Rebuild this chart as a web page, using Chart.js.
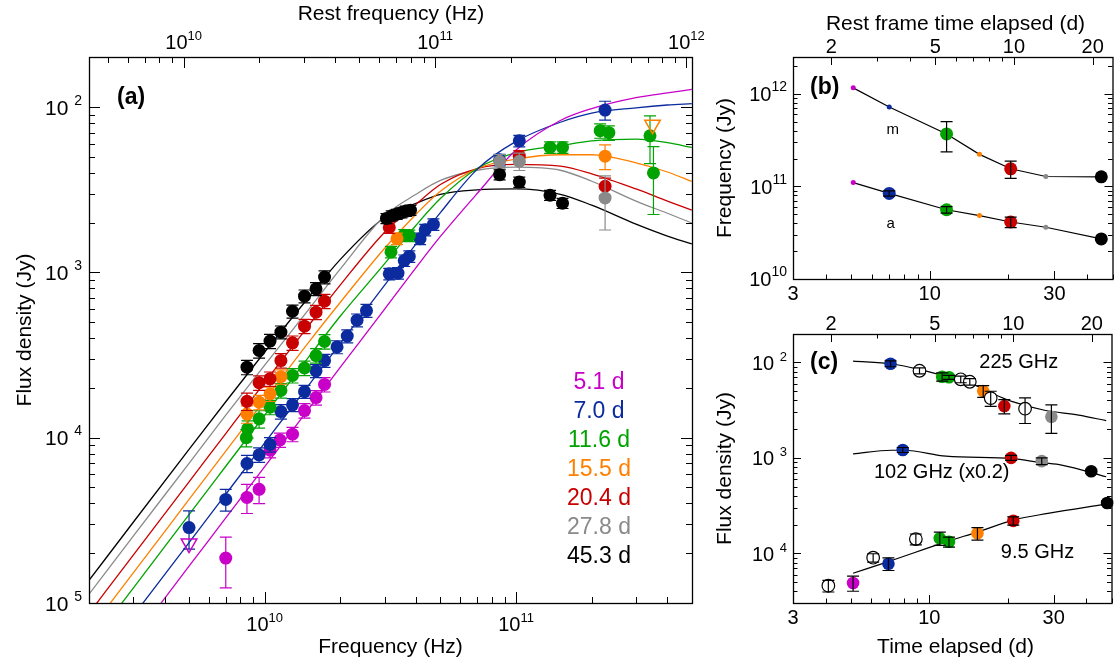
<!DOCTYPE html>
<html>
<head>
<meta charset="utf-8">
<title>Spectra and light curves</title>
<script src="https://cdn.jsdelivr.net/npm/chart.js@4.4.1/dist/chart.umd.min.js"></script>
<style>
  html, body { margin: 0; padding: 0; background: #fff; }
  #stage { position: relative; width: 1119px; height: 664px; overflow: hidden; }
  #stage canvas { position: absolute; left: 0; top: 0; }
</style>
</head>
<body>
<div id="stage">
  <canvas id="panelA" width="1119" height="664"></canvas>
  <canvas id="panelB" width="1119" height="664"></canvas>
  <canvas id="panelC" width="1119" height="664"></canvas>
</div>
<script>
const FONT = '"Liberation Sans", Arial, Helvetica, sans-serif';
const ONE_PLUS_Z = 2.1; // observed -> rest frame factor for the top axes

// ---- epochs ----
const epochLabels = ['5.1 d', '7.0 d', '11.6 d', '15.5 d', '20.4 d', '27.8 d', '45.3 d'];
const epochDays = [5.1, 7.0, 11.6, 15.5, 20.4, 27.8, 45.3];
const epochColors = ['#c800c8', '#0b2b9e', '#00a300', '#ff8000', '#c80000', '#8a8a8a', '#000000'];

// ---- (a) measured spectra: frequency (Hz), flux density (Jy), fractional error ----
const nu5d1 = [7.0e9, 8.5e9, 9.5e9, 1.05e10, 1.15e10, 1.29e10, 1.44e10, 1.6e10, 1.73e10];
const f5d1 = [1.87e-5, 4.35e-5, 4.87e-5, 8.4e-5, 9.7e-5, 1.05e-4, 1.46e-4, 1.75e-4, 2.1e-4];
const err5d1 = [0.34, 0.2, 0.18, 0.1, 0.1, 0.1, 0.1, 0.1, 0.1];

const nu7d0 = [5.0e9, 7.0e9, 8.5e9, 9.5e9, 1.05e10, 1.16e10, 1.29e10, 1.44e10, 1.6e10, 1.73e10, 1.94e10, 2.13e10,
  2.33e10, 2.54e10, 3.13e10, 3.39e10, 3.59e10, 3.76e10, 4.15e10, 4.35e10, 4.69e10, 8.6e10, 1.03e11, 2.26e11];
const f7d0 = [2.86e-5, 4.23e-5, 6.98e-5, 7.88e-5, 9.1e-5, 1.44e-4, 1.58e-4, 1.9e-4, 2.54e-4, 2.93e-4, 3.54e-4, 4.12e-4,
  5.14e-4, 5.88e-4, 9.8e-4, 9.9e-4, 1.18e-3, 1.25e-3, 1.6e-3, 1.81e-3, 1.95e-3, 4.8e-3, 6.25e-3, 9.6e-3];
const err7d0 = [0.26, 0.15, 0.12, 0.1, 0.1, 0.1, 0.09, 0.09, 0.09, 0.09, 0.09, 0.09,
  0.09, 0.09, 0.08, 0.08, 0.08, 0.08, 0.08, 0.08, 0.08, 0.08, 0.08, 0.13];

const nu11d6 = [8.45e9, 8.55e9, 9.5e9, 1.05e10, 1.16e10, 1.29e10, 1.44e10, 1.6e10, 1.73e10, 3.18e10, 3.59e10, 3.76e10,
  1.365e11, 1.53e11, 2.16e11, 2.34e11, 3.41e11, 3.52e11];
const f11d6 = [1.0e-4, 1.13e-4, 1.3e-4, 1.53e-4, 1.93e-4, 2.38e-4, 2.64e-4, 3.14e-4, 3.82e-4, 1.33e-3, 1.68e-3, 1.67e-3,
  5.7e-3, 5.7e-3, 7.2e-3, 7.0e-3, 6.7e-3, 4.0e-3];
const err11d6 = [0.12, 0.12, 0.12, 0.1, 0.1, 0.1, 0.1, 0.1, 0.1, 0.08, 0.08, 0.08, 0.08, 0.08, 0.1, 0.1, 0.32, 0.44];

const nu15d5 = [8.5e9, 9.5e9, 1.05e10, 1.16e10, 3.36e10, 2.26e11];
const f15d5 = [1.39e-4, 1.64e-4, 1.84e-4, 2.34e-4, 1.6e-3, 5.05e-3];
const err15d5 = [0.12, 0.1, 0.1, 0.1, 0.08, 0.17];

const nu20d4 = [8.5e9, 9.5e9, 1.05e10, 1.16e10, 1.29e10, 1.44e10, 1.6e10, 1.73e10, 3.13e10, 1.03e11, 2.26e11];
const f20d4 = [1.66e-4, 2.15e-4, 2.27e-4, 2.93e-4, 3.75e-4, 4.73e-4, 5.75e-4, 6.7e-4, 1.87e-3, 5.05e-3, 3.32e-3];
const err20d4 = [0.12, 0.1, 0.1, 0.1, 0.1, 0.1, 0.1, 0.1, 0.08, 0.08, 0.12];

const nu27d8 = [8.6e10, 1.03e11, 2.26e11];
const f27d8 = [4.7e-3, 4.7e-3, 2.82e-3];
const err27d8 = [0.1, 0.12, 0.36];

const nu45d3 = [8.5e9, 9.5e9, 1.05e10, 1.16e10, 1.29e10, 1.44e10, 1.6e10, 1.73e10, 3.05e10, 3.2e10, 3.35e10, 3.5e10,
  3.65e10, 3.8e10, 8.6e10, 1.03e11, 1.365e11, 1.53e11];
const f45d3 = [2.67e-4, 3.37e-4, 3.84e-4, 4.35e-4, 5.82e-4, 7.18e-4, 7.96e-4, 9.37e-4, 2.12e-3, 2.2e-3, 2.25e-3, 2.3e-3,
  2.35e-3, 2.38e-3, 3.9e-3, 3.52e-3, 2.93e-3, 2.62e-3];
const err45d3 = [0.1, 0.1, 0.1, 0.09, 0.09, 0.09, 0.09, 0.09, 0.07, 0.07, 0.07, 0.07, 0.07, 0.07, 0.07, 0.07, 0.07, 0.07];

// upper limits (open triangles)
const limitFreq = [5.0e9, 3.49e11];
const limitFlux = [2.29e-5, 7.83e-3];
const limitEpoch = [0, 3];

// ---- (a) model spectra ----
const modelFreq = [2e9, 3e9, 5e9, 7e9, 1e10, 1.5e10, 2e10, 3e10, 4e10, 5e10, 7e10, 1e11, 1.5e11, 2e11, 3e11, 4e11, 5e11];
const model5d1 = [2.67e-6, 6.0e-6, 1.67e-5, 3.27e-5, 6.68e-5, 1.5e-4, 2.67e-4, 6.0e-4, 1.07e-3, 1.65e-3, 3.0e-3, 5.5e-3, 8.3e-3, 9.8e-3, 1.14e-2, 1.22e-2, 1.28e-2];
const model7d0 = [3.72e-6, 8.37e-6, 2.32e-5, 4.55e-5, 9.3e-5, 2.09e-4, 3.72e-4, 8.37e-4, 1.49e-3, 2.3e-3, 4.2e-3, 6.2e-3, 8.1e-3, 9.2e-3, 9.9e-3, 1.03e-2, 1.05e-2];
const model11d6 = [5.49e-6, 1.23e-5, 3.43e-5, 6.72e-5, 1.37e-4, 3.09e-4, 5.45e-4, 1.13e-3, 1.93e-3, 2.8e-3, 4.25e-3, 5.3e-3, 5.85e-3, 6.25e-3, 6.4e-3, 6.1e-3, 5.7e-3];
const model15d5 = [6.77e-6, 1.52e-5, 4.23e-5, 8.3e-5, 1.69e-4, 3.8e-4, 6.6e-4, 1.4e-3, 2.25e-3, 3.1e-3, 4.25e-3, 4.85e-3, 5.15e-3, 5.15e-3, 4.6e-3, 4.05e-3, 3.55e-3];
const model20d4 = [8.65e-6, 1.95e-5, 5.4e-5, 1.06e-4, 2.16e-4, 4.8e-4, 8.4e-4, 1.75e-3, 2.58e-3, 3.4e-3, 4.25e-3, 4.5e-3, 4.4e-3, 3.95e-3, 3.2e-3, 2.7e-3, 2.38e-3];
const model27d8 = [1.13e-5, 2.54e-5, 7.0e-5, 1.37e-4, 2.75e-4, 6.0e-4, 1.05e-3, 2.2e-3, 2.97e-3, 3.6e-3, 4.15e-3, 4.33e-3, 4.15e-3, 3.56e-3, 2.7e-3, 2.28e-3, 1.99e-3];
const model45d3 = [1.37e-5, 3.08e-5, 8.5e-5, 1.65e-4, 3.3e-4, 7.1e-4, 1.2e-3, 2.15e-3, 2.62e-3, 2.97e-3, 3.16e-3, 3.2e-3, 2.97e-3, 2.55e-3, 1.96e-3, 1.66e-3, 1.49e-3];

// ---- (b) characteristic frequencies per epoch ----
const nuM = [1.16e12, 7.2e11, 3.69e11, 2.22e11, 1.55e11, 1.28e11, 1.27e11];
const nuMErr = [0, 0, 0.36, 0, 0.21, 0, 0];
const nuMFitted = [0, 0, 1, 0, 1, 0, 1];
const nuA = [1.10e11, 8.4e10, 5.6e10, 4.84e10, 4.13e10, 3.62e10, 2.71e10];
const nuAErr = [0, 0.065, 0.08, 0, 0.13, 0, 0];
const nuAFitted = [0, 1, 1, 0, 1, 0, 1];

// ---- (c) light curves: days, flux (Jy), fractional error, epoch colour index ----
const lc225Days = [7.1, 11.2, 11.9, 16.1, 19.4, 29.4];
const lc225Flux = [9.67e-3, 7.06e-3, 6.97e-3, 5.0e-3, 3.48e-3, 2.69e-3];
const lc225Err = [0.07, 0.1, 0.05, 0.14, 0.17, 0.33];
const lc225Epoch = [1, 2, 2, 3, 4, 5];
const lc225OpenDays = [9.17, 13.2, 14.3, 17.2, 23.3];
const lc225OpenFlux = [8.16e-3, 6.64e-3, 6.26e-3, 4.22e-3, 3.27e-3];
const lc225OpenErr = [0.07, 0.08, 0.08, 0.18, 0.3];
const lc225ModelDays = [5.1, 7.2, 9.2, 11.5, 14.3, 17.8, 20.7, 27.7, 37.4, 47.7];
const lc225ModelFlux = [1.03e-2, 9.6e-3, 8.4e-3, 7.2e-3, 6.1e-3, 4.6e-3, 3.9e-3, 3.15e-3, 2.8e-3, 2.45e-3];

const lc102Days = [7.91, 20.6, 27.0, 41.8];
const lc102Flux = [1.21e-3, 1.0e-3, 9.24e-4, 7.23e-4];
const lc102Err = [0.06, 0.06, 0.08, 0.05];
const lc102Epoch = [1, 4, 5, 6];
const lc102ModelDays = [5.1, 7.15, 8.0, 11.6, 20.8, 27.0, 32.2, 47.7];
const lc102ModelFlux = [1.10e-3, 1.2e-3, 1.2e-3, 1.04e-3, 9.8e-4, 8.9e-4, 8.4e-4, 6.34e-4];

const lc9Days = [5.1, 6.97, 10.97, 11.9, 15.3, 21.0, 48.1];
const lc9Flux = [4.89e-5, 7.78e-5, 1.44e-4, 1.32e-4, 1.62e-4, 2.19e-4, 3.37e-4];
const lc9Err = [0.18, 0.15, 0.16, 0.12, 0.15, 0.1, 0.05];
const lc9Epoch = [0, 1, 2, 2, 3, 4, 6];
const lc9OpenDays = [4.10, 6.09, 8.88];
const lc9OpenFlux = [4.58e-5, 9.0e-5, 1.41e-4];
const lc9OpenErr = [0.14, 0.1, 0.13];
const lc9ModelDays = [5.1, 6.97, 11.9, 15.3, 21.0, 28.5, 47.7];
const lc9ModelFlux = [6.18e-5, 8.2e-5, 1.35e-4, 1.67e-4, 2.23e-4, 2.62e-4, 3.28e-4];

// ---- tick values and labels ('^' starts the superscript) ----
const freqTicks = [1e10, 1e11];
const freqTickLabels = ['10^10', '10^11'];
const restFreqTicks = [1e10, 1e11, 1e12];
const restFreqTickLabels = ['10^10', '10^11', '10^12'];
const fluxTicksA = [1e-5, 1e-4, 1e-3, 1e-2];
const fluxTickLabelsA = ['10 ^5', '10 ^4', '10 ^3', '10 ^2'];
const nuTicks = [1e10, 1e11, 1e12];
const nuTickLabels = ['10^10', '10^11', '10^12'];
const dayTicks = [3, 10, 30];
const dayTickLabels = ['3', '10', '30'];
const restDayTicks = [2, 5, 10, 20];
const restDayTickLabels = ['2', '5', '10', '20'];
const fluxTicksC = [1e-4, 1e-3, 1e-2];
const fluxTickLabelsC = ['10 ^4', '10 ^3', '10 ^2'];

// ---------------------------------------------------------------------------

const xy = (xs, ys) => xs.map((v, i) => ({ x: v, y: ys[i] }));

function logSteps(min, max) {
  const out = [];
  for (let e = Math.floor(Math.log10(min)); e <= Math.ceil(Math.log10(max)); e++) {
    for (let m = 1; m <= 9; m++) {
      const v = m * Math.pow(10, e);
      if (v >= min * 0.9999 && v <= max * 1.0001) out.push(v);
    }
  }
  return out;
}

function drawTickLabel(ctx, label, x, y, align, ax) {
  const parts = label.split('^');
  const base = parts[0], sup = parts[1];
  ctx.font = ax.font + 'px ' + FONT;
  const wb = ctx.measureText(base).width;
  let ws = 0;
  if (sup) {
    ctx.font = ax.sup + 'px ' + FONT;
    ws = ctx.measureText(sup).width;
  }
  const x0 = align === 'right' ? x - wb - ws : x - (wb + ws) / 2;
  ctx.textAlign = 'left';
  ctx.font = ax.font + 'px ' + FONT;
  ctx.fillText(base, x0, y);
  if (sup) {
    ctx.font = ax.sup + 'px ' + FONT;
    ctx.fillText(sup, x0 + wb, y - ax.rise);
  }
}

function drawAxis(ctx, area, scale, ax, lens) {
  const horizontal = ax.side === 'top' || ax.side === 'bottom';
  const tick = (v, len) => {
    const p = Math.round(scale.getPixelForValue(v)) + 0.5;
    if (horizontal) {
      if (p < area.left - 1 || p > area.right + 1) return;
      const y0 = ax.side === 'bottom' ? area.bottom : area.top;
      const dir = ax.side === 'bottom' ? -1 : 1;
      ctx.moveTo(p, y0); ctx.lineTo(p, y0 + dir * len);
    } else {
      if (p < area.top - 1 || p > area.bottom + 1) return;
      const x0 = ax.side === 'left' ? area.left : area.right;
      const dir = ax.side === 'left' ? 1 : -1;
      ctx.moveTo(x0, p); ctx.lineTo(x0 + dir * len, p);
    }
  };
  ctx.save();
  ctx.strokeStyle = '#000';
  ctx.lineWidth = 1;
  ctx.beginPath();
  logSteps(scale.min, scale.max).forEach(v => tick(v, lens[1]));
  ax.majors.forEach(v => tick(v, lens[0]));
  ctx.stroke();

  if (ax.labels) {
    ctx.fillStyle = '#000';
    ctx.textBaseline = 'alphabetic';
    ax.majors.forEach((v, i) => {
      const p = scale.getPixelForValue(v);
      if (ax.side === 'bottom') drawTickLabel(ctx, ax.labels[i], p, area.bottom + ax.offset, 'center', ax);
      else if (ax.side === 'top') drawTickLabel(ctx, ax.labels[i], p, area.top - ax.offset, 'center', ax);
      else drawTickLabel(ctx, ax.labels[i], area.left - ax.offset, p + ax.font * 0.36, 'right', ax);
    });
  }
  ctx.restore();
}

function drawErrors(chart, ds) {
  const ctx = chart.ctx, xs = chart.scales.x, ys = chart.scales.y;
  ctx.save();
  ctx.lineWidth = 1.2;
  ds.data.forEach((p, i) => {
    const e = ds.errors[i];
    if (!e) return;
    const px = xs.getPixelForValue(p.x);
    const top = ys.getPixelForValue(p.y * (1 + e));
    const bot = ys.getPixelForValue(p.y * (1 - e));
    const col = ds.errorColor || (Array.isArray(ds.pointBackgroundColor) ? ds.pointBackgroundColor[i] : ds.pointBackgroundColor);
    ctx.strokeStyle = col;
    ctx.beginPath();
    ctx.moveTo(px, top); ctx.lineTo(px, bot);
    ctx.moveTo(px - 6, top); ctx.lineTo(px + 6, top);
    ctx.moveTo(px - 6, bot); ctx.lineTo(px + 6, bot);
    ctx.stroke();
  });
  ctx.restore();
}

const panelSpecs = {};

const decorations = {
  id: 'decorations',
  beforeDatasetDraw(chart, args) {
    const spec = panelSpecs[chart.canvas.id];
    const ds = chart.data.datasets[args.index];
    if (ds.errors && !spec.errorsOnTop) drawErrors(chart, ds);
  },
  afterDatasetDraw(chart, args) {
    const spec = panelSpecs[chart.canvas.id];
    const ds = chart.data.datasets[args.index];
    if (ds.errors && spec.errorsOnTop) drawErrors(chart, ds);
  },
  afterDraw(chart) {
    const spec = panelSpecs[chart.canvas.id];
    const ctx = chart.ctx, area = chart.chartArea;
    ctx.save();
    ctx.strokeStyle = '#000';
    ctx.lineWidth = 1.3;
    ctx.strokeRect(area.left + 0.5, area.top + 0.5, area.right - area.left, area.bottom - area.top);
    ctx.restore();
    spec.axes.forEach(ax => drawAxis(ctx, area, chart.scales[ax.scale], ax, spec.tickLen));
    spec.texts.forEach(t => {
      ctx.save();
      ctx.fillStyle = t.color || '#000';
      ctx.font = (t.bold ? 'bold ' : '') + t.size + 'px ' + FONT;
      ctx.textAlign = t.align || 'center';
      ctx.textBaseline = 'alphabetic';
      ctx.translate(t.x, t.y);
      if (t.rotate) ctx.rotate(-Math.PI / 2);
      ctx.fillText(t.text, 0, 0);
      ctx.restore();
    });
  }
};

function logScale(min, max, extra) {
  return Object.assign({ type: 'logarithmic', display: false, min: min, max: max }, extra || {});
}

function buildChart(id, padding, scales, datasets) {
  return new Chart(document.getElementById(id), {
    type: 'line',
    data: { datasets: datasets },
    options: {
      responsive: false,
      animation: false,
      events: [],
      layout: { padding: padding },
      plugins: { legend: { display: false }, tooltip: { enabled: false } },
      scales: scales
    },
    plugins: [decorations]
  });
}

// ---------------- panel (a) ----------------
const spectraNu = [nu5d1, nu7d0, nu11d6, nu15d5, nu20d4, nu27d8, nu45d3];
const spectraF = [f5d1, f7d0, f11d6, f15d5, f20d4, f27d8, f45d3];
const spectraErr = [err5d1, err7d0, err11d6, err15d5, err20d4, err27d8, err45d3];
const models = [model5d1, model7d0, model11d6, model15d5, model20d4, model27d8, model45d3];

const datasetsA = [];
models.forEach((m, i) => datasetsA.push({
  data: xy(modelFreq, m), showLine: true, borderColor: epochColors[i], borderWidth: 1.3,
  pointRadius: 0, cubicInterpolationMode: 'monotone', fill: false, order: 20 + i
}));
spectraNu.forEach((nu, i) => datasetsA.push({
  data: xy(nu, spectraF[i]), showLine: false, pointRadius: 6.5, pointBorderWidth: 0,
  pointBackgroundColor: epochColors[i], errors: spectraErr[i], order: 10 - i
}));
limitFreq.forEach((nu, i) => datasetsA.push({
  data: [{ x: nu, y: limitFlux[i] }], showLine: false, pointStyle: 'triangle', pointRotation: 180,
  pointRadius: 9, pointBackgroundColor: 'rgba(0,0,0,0)', pointBorderColor: epochColors[limitEpoch[i]],
  pointBorderWidth: 1.5, order: 2
}));

panelSpecs.panelA = {
  errorsOnTop: false,
  tickLen: [11, 6],
  axes: [
    { scale: 'x', side: 'bottom', majors: freqTicks, labels: freqTickLabels, font: 20, sup: 13, rise: 9, offset: 28 },
    { scale: 'x2', side: 'top', majors: restFreqTicks, labels: restFreqTickLabels, font: 20, sup: 13, rise: 9, offset: 8.5 },
    { scale: 'y', side: 'left', majors: fluxTicksA, labels: fluxTickLabelsA, font: 21, sup: 14, rise: 10, offset: 7 },
    { scale: 'y', side: 'right', majors: fluxTicksA }
  ],
  texts: [
    { text: 'Frequency (Hz)', x: 390.5, y: 653, size: 21 },
    { text: 'Rest frequency (Hz)', x: 391, y: 20, size: 21 },
    { text: 'Flux density (Jy)', x: 31, y: 330, size: 21, rotate: true },
    { text: '(a)', x: 117, y: 104, size: 23, bold: true, align: 'left' }
  ].concat(epochLabels.map((t, i) => ({ text: t, x: 599, y: 388.6 + 29.1 * i, size: 23, color: epochColors[i] })))
};

buildChart('panelA', { left: 89, top: 57, right: 427, bottom: 61 }, {
  x: logScale(2.0e9, 5.01e11),
  x2: logScale(2.0e9 * ONE_PLUS_Z, 5.01e11 * ONE_PLUS_Z, { axis: 'x', position: 'top' }),
  y: logScale(1e-5, 2.01e-2)
}, datasetsA);

// ---------------- panel (b) ----------------
const sizeFor = flags => flags.map(f => (f ? 6.5 : 2.5));
const datasetsB = [
  { data: xy(epochDays, nuM), showLine: true, borderColor: '#000', borderWidth: 1.2, pointRadius: sizeFor(nuMFitted),
    pointBorderWidth: 0, pointBackgroundColor: epochColors, errors: nuMErr, errorColor: '#000', clip: false },
  { data: xy(epochDays, nuA), showLine: true, borderColor: '#000', borderWidth: 1.2, pointRadius: sizeFor(nuAFitted),
    pointBorderWidth: 0, pointBackgroundColor: epochColors, errors: nuAErr, errorColor: '#000', clip: false }
];

panelSpecs.panelB = {
  errorsOnTop: true,
  tickLen: [8, 4.5],
  axes: [
    { scale: 'x', side: 'bottom', majors: dayTicks, labels: dayTickLabels, font: 20, offset: 21 },
    { scale: 'x2', side: 'top', majors: restDayTicks, labels: restDayTickLabels, font: 20, offset: 4.5 },
    { scale: 'y', side: 'left', majors: nuTicks, labels: nuTickLabels, font: 20, sup: 14, rise: 10, offset: 6 },
    { scale: 'y', side: 'right', majors: nuTicks }
  ],
  texts: [
    { text: 'Rest frame time elapsed (d)', x: 955.5, y: 30, size: 21 },
    { text: 'Frequency (Jy)', x: 731, y: 168, size: 21, rotate: true },
    { text: '(b)', x: 810, y: 94, size: 23, bold: true, align: 'left' },
    { text: 'm', x: 892.7, y: 133.5, size: 15 },
    { text: 'a', x: 890.7, y: 227.5, size: 15 }
  ]
};

buildChart('panelB', { left: 793, top: 57, right: 1, bottom: 385 }, {
  x: logScale(3, 50),
  x2: logScale(3 / ONE_PLUS_Z, 50 / ONE_PLUS_Z, { axis: 'x', position: 'top' }),
  y: logScale(1e10, 2.5e12)
}, datasetsB);

// ---------------- panel (c) ----------------
const curveC = (d, f) => ({ data: xy(d, f), showLine: true, borderColor: '#000', borderWidth: 1.2, pointRadius: 0,
  cubicInterpolationMode: 'monotone', order: 20 });
const filledC = (d, f, e, idx) => ({ data: xy(d, f), showLine: false, pointRadius: 6.3, pointBorderWidth: 0,
  pointBackgroundColor: idx.map(i => epochColors[i]), errors: e, errorColor: '#000', clip: false, order: 2 });
const openC = (d, f, e) => ({ data: xy(d, f), showLine: false, pointRadius: 6.3, pointBorderWidth: 1.2,
  pointBorderColor: '#000', pointBackgroundColor: '#fff', errors: e, errorColor: '#000', order: 1 });

const datasetsC = [
  curveC(lc225ModelDays, lc225ModelFlux),
  curveC(lc102ModelDays, lc102ModelFlux),
  curveC(lc9ModelDays, lc9ModelFlux),
  filledC(lc225Days, lc225Flux, lc225Err, lc225Epoch),
  filledC(lc102Days, lc102Flux, lc102Err, lc102Epoch),
  filledC(lc9Days, lc9Flux, lc9Err, lc9Epoch),
  openC(lc225OpenDays, lc225OpenFlux, lc225OpenErr),
  openC(lc9OpenDays, lc9OpenFlux, lc9OpenErr)
];

panelSpecs.panelC = {
  errorsOnTop: true,
  tickLen: [8, 4.5],
  axes: [
    { scale: 'x', side: 'bottom', majors: dayTicks, labels: dayTickLabels, font: 20, offset: 21 },
    { scale: 'x2', side: 'top', majors: restDayTicks, labels: restDayTickLabels, font: 20, offset: 4.5 },
    { scale: 'y', side: 'left', majors: fluxTicksC, labels: fluxTickLabelsC, font: 20, sup: 13, rise: 9, offset: 6 },
    { scale: 'y', side: 'right', majors: fluxTicksC }
  ],
  texts: [
    { text: 'Time elapsed (d)', x: 955.5, y: 653, size: 21 },
    { text: 'Flux density (Jy)', x: 731, y: 468.5, size: 21, rotate: true },
    { text: '(c)', x: 810, y: 368.5, size: 23, bold: true, align: 'left' },
    { text: '225 GHz', x: 1018.8, y: 367.7, size: 20 },
    { text: '102 GHz (x0.2)', x: 941.7, y: 478, size: 20 },
    { text: '9.5 GHz', x: 1037.5, y: 558.3, size: 20 }
  ]
};

buildChart('panelC', { left: 793, top: 334, right: 1, bottom: 61 }, {
  x: logScale(3, 50),
  x2: logScale(3 / ONE_PLUS_Z, 50 / ONE_PLUS_Z, { axis: 'x', position: 'top' }),
  y: logScale(3.02e-5, 1.98e-2)
}, datasetsC);
</script>
</body>
</html>
